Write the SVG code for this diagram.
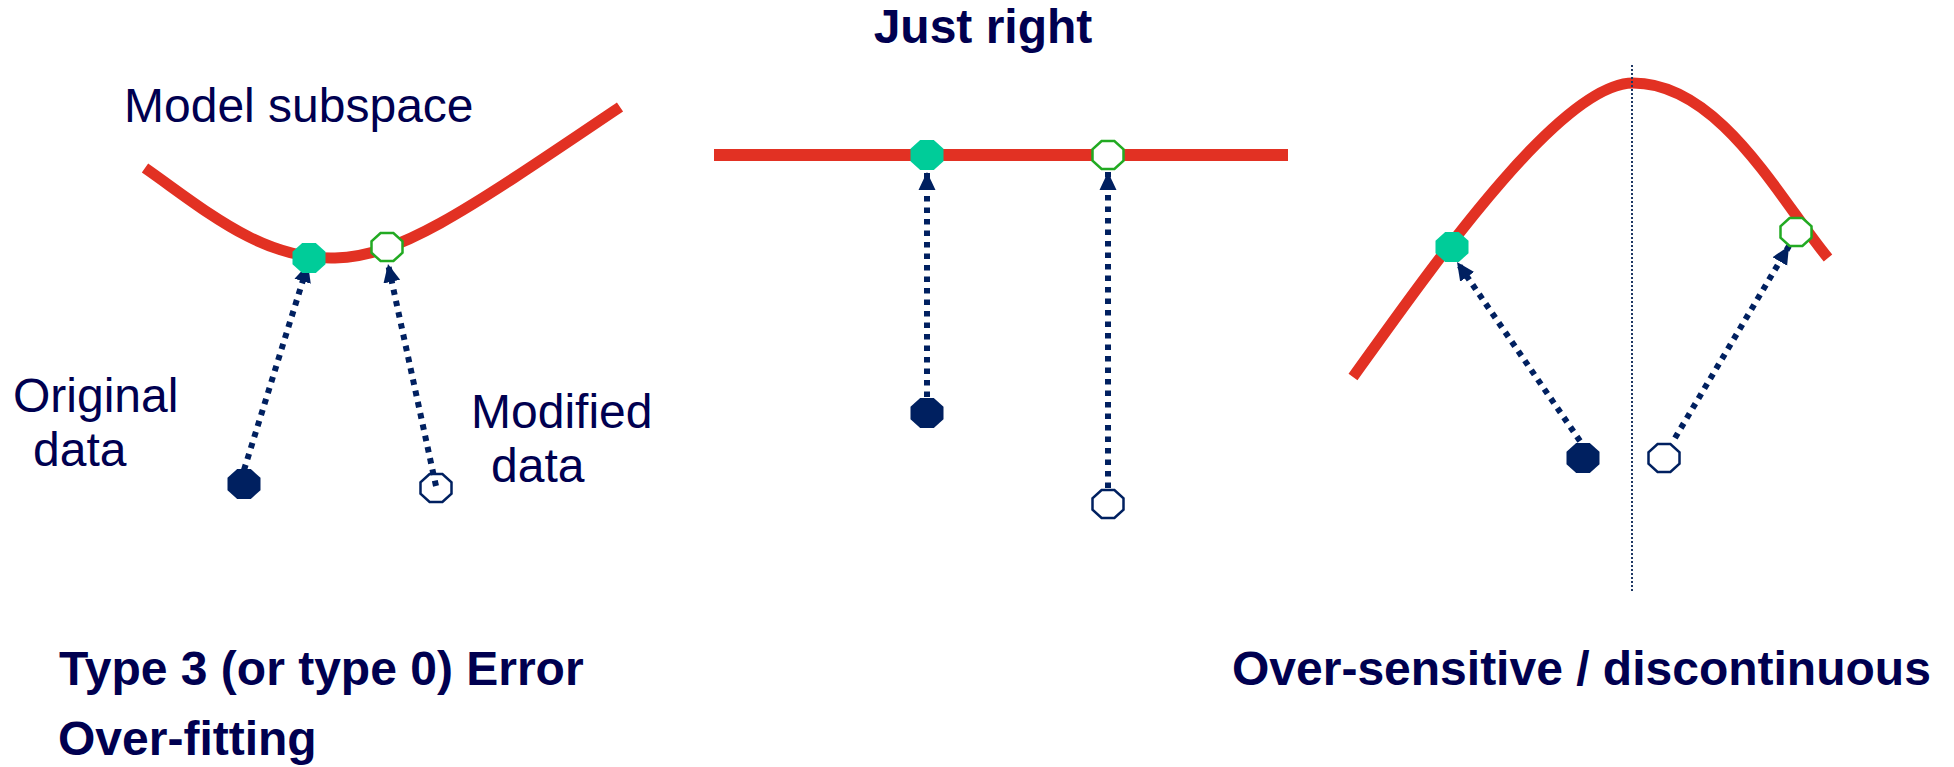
<svg xmlns="http://www.w3.org/2000/svg" width="1954" height="767" viewBox="0 0 1954 767">
<style>
.curve{fill:none;stroke:#E23123;stroke-width:11}
.arrow{fill:none;stroke:#002060;stroke-width:6;stroke-dasharray:5.5 6;marker-end:url(#ah)}
.vline{fill:none;stroke:#1F3864;stroke-width:2;stroke-dasharray:2 2}
.lbl{font-family:"Liberation Sans",Arial,sans-serif;font-size:48px;fill:#000050}
.bold{font-weight:bold}
.gfill{fill:#00CC99}
.ghollow{fill:#ffffff;stroke:#22AA22;stroke-width:2.5}
.dfill{fill:#002060}
.dhollow{fill:#ffffff;stroke:#002060;stroke-width:2.5}
.dhollow0{fill:none;stroke:#002060;stroke-width:2.5}
</style>
<defs>
<marker id="ah" markerUnits="userSpaceOnUse" markerWidth="19" markerHeight="19" refX="18" refY="8.5" orient="auto" viewBox="0 0 19 17">
<path d="M0,0 L18,8.5 L0,17 z" fill="#002060"/>
</marker>
<polygon id="oct" points="-6.8,-15 6.8,-15 16.5,-6.2 16.5,6.2 6.8,15 -6.8,15 -16.5,6.2 -16.5,-6.2"/>
<polygon id="octh" points="-6.4,-14 6.4,-14 15.5,-5.8 15.5,5.8 6.4,14 -6.4,14 -15.5,5.8 -15.5,-5.8"/>
</defs>
<rect width="1954" height="767" fill="#ffffff"/>

<g id="title-just-right"><text class="lbl bold" x="983" y="43" text-anchor="middle">Just right</text></g>
<g id="label-model-subspace"><text class="lbl" x="124" y="122">Model subspace</text></g>
<g id="label-original-data"><text class="lbl" x="13" y="412">Original</text><text class="lbl" x="33" y="466">data</text></g>
<g id="label-modified-data"><text class="lbl" x="471" y="428">Modified</text><text class="lbl" x="491" y="482">data</text></g>
<g id="caption-type3"><text class="lbl bold" x="59" y="685">Type 3 (or type 0) Error</text></g>
<g id="caption-overfitting"><text class="lbl bold" x="58" y="755">Over-fitting</text></g>
<g id="caption-oversensitive"><text class="lbl bold" x="1232" y="685">Over-sensitive / discontinuous</text></g>

<g id="model-curves">
<path class="curve" d="M145,168 C205,210 262,260 335,258 C400,256 460,215 620,107"/>
<path class="curve" d="M714,155 H1288" style="stroke-width:12"/>
<path class="curve" d="M1353,377 C1430,270 1560,83 1633,83 C1720,83 1780,200 1828,258"/>
</g>

<g id="connectors">
<path class="vline" d="M1632,65 V593"/>
<path class="arrow" d="M244,470 L308,264"/>
<path class="arrow" d="M436,486 L388,264"/>
<path class="arrow" d="M927,397 L927,172"/>
<path class="arrow" d="M1108,488 L1108,172"/>
<path class="arrow" d="M1580,441 L1457,262"/>
<path class="arrow" d="M1675,438 L1789,246"/>
</g>

<g id="p1-projected-original"><use href="#oct" class="gfill" x="309" y="258"/></g>
<g id="p1-projected-modified"><use href="#octh" class="ghollow" x="387" y="247"/></g>
<g id="p1-original"><use href="#oct" class="dfill" x="244" y="484"/></g>
<g id="p1-modified"><use href="#octh" class="dhollow0" x="436" y="488"/></g>

<g id="p2-projected-original"><use href="#oct" class="gfill" x="927" y="155"/></g>
<g id="p2-projected-modified"><use href="#octh" class="ghollow" x="1108" y="155"/></g>
<g id="p2-original"><use href="#oct" class="dfill" x="927" y="413"/></g>
<g id="p2-modified"><use href="#octh" class="dhollow" x="1108" y="504"/></g>

<g id="p3-projected-original"><use href="#oct" class="gfill" x="1452" y="247"/></g>
<g id="p3-projected-modified"><use href="#octh" class="ghollow" x="1796" y="232"/></g>
<g id="p3-original"><use href="#oct" class="dfill" x="1583" y="458"/></g>
<g id="p3-modified"><use href="#octh" class="dhollow" x="1664" y="458"/></g>
</svg>
